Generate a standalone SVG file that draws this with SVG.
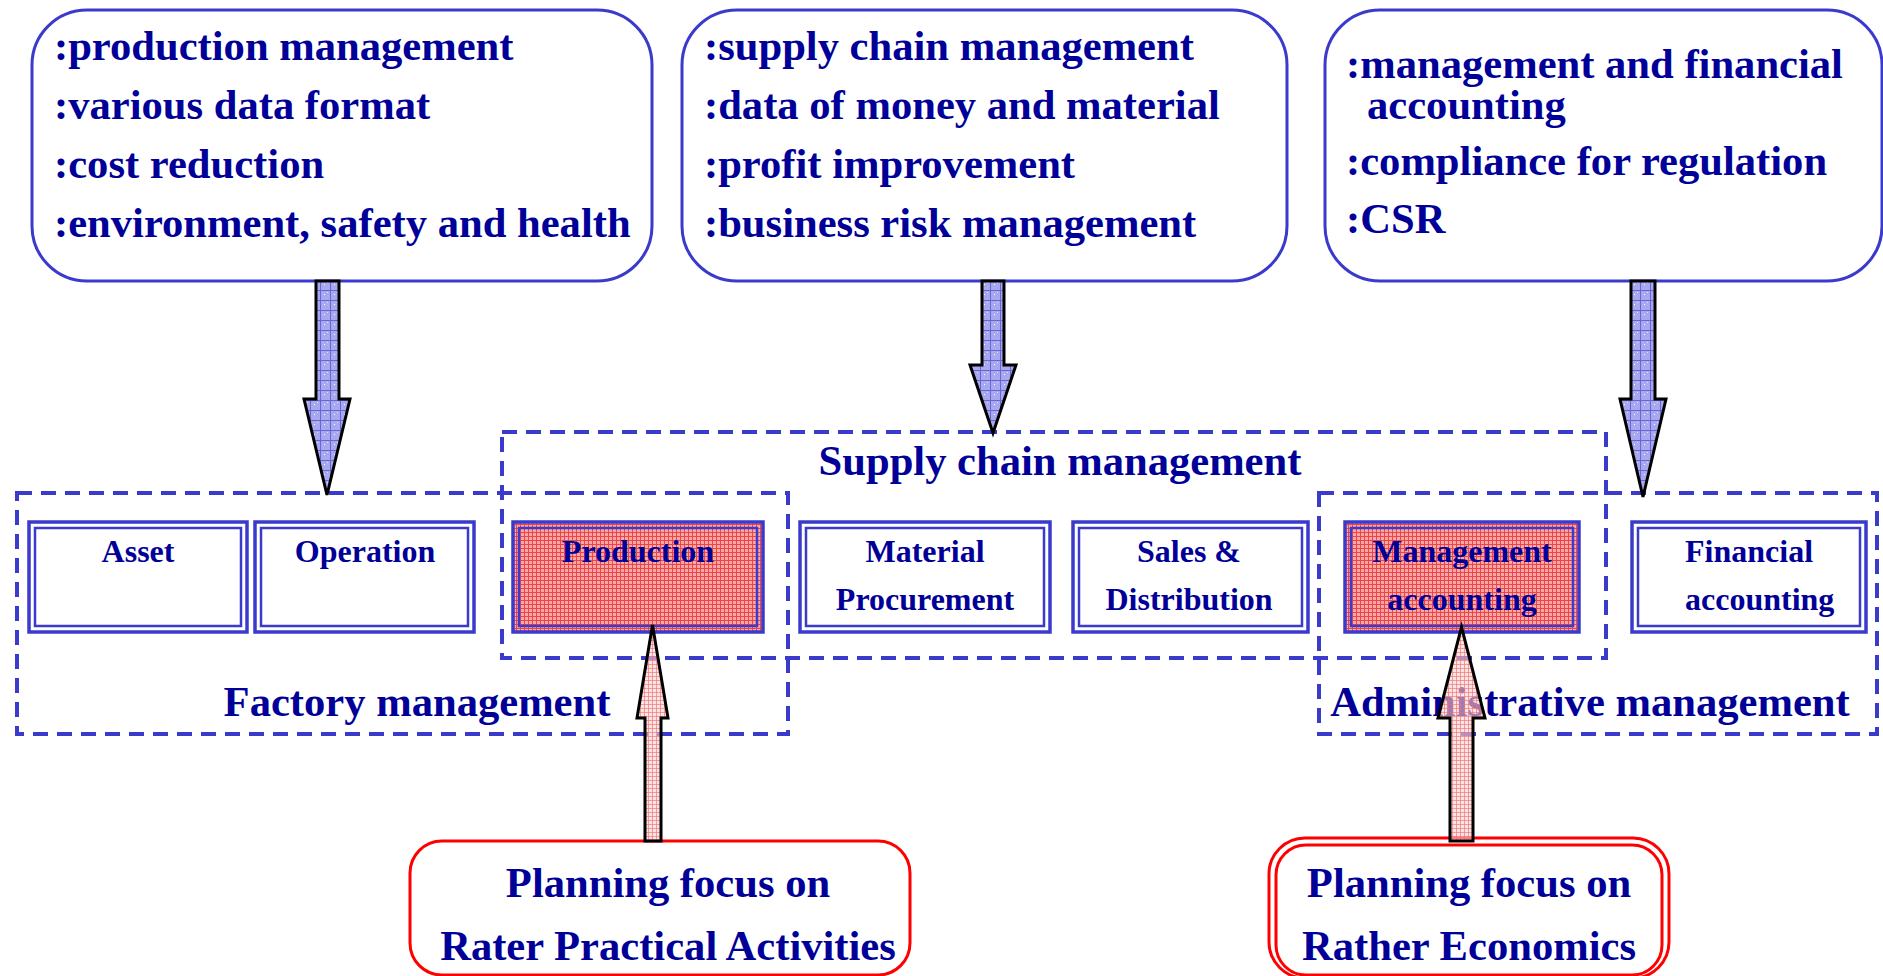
<svg xmlns="http://www.w3.org/2000/svg" width="1883" height="976" viewBox="0 0 1883 976">
<style>
.t{font-family:"Liberation Serif","Times New Roman",serif;font-weight:bold;fill:#000099}
.big{font-size:42.6px}
.sm{font-size:32px}
.top{fill:#ffffff;stroke:#3a3acc;stroke-width:3}
.dash{fill:none;stroke:#3a3acc;stroke-width:4;stroke-dasharray:15 9}
.ob{fill:#ffffff;stroke:#3a3acc;stroke-width:3.5}
.ib{fill:none;stroke:#3a3acc;stroke-width:2.5}
.obr{fill:url(#pRedBox);stroke:#3a3acc;stroke-width:3.5}
.barrow{fill:url(#pBlue);stroke:#000000;stroke-width:3;stroke-linejoin:miter}
.rarrow{fill:url(#pRed);stroke:#000000;stroke-width:3;stroke-linejoin:miter}
.red{fill:#ffffff;stroke:#ff0000;stroke-width:3}
.redi{fill:none;stroke:#ff0000;stroke-width:3}
</style>
<defs>
<pattern id="pBlue" width="10" height="10" patternUnits="userSpaceOnUse">
<rect width="10" height="10" fill="#a8a8ee"/>
<path d="M0 0.5H10M0.5 0V10" stroke="#6666d4" stroke-width="1"/>
<rect x="4" y="4" width="1" height="1" fill="#ffffff"/>
<rect x="7" y="2" width="1" height="1" fill="#e0e0ff"/>
</pattern>
<pattern id="pRedBox" width="4" height="4" patternUnits="userSpaceOnUse">
<rect width="4" height="4" fill="#f8a8a8"/>
<path d="M0 0.5H4M0.5 0V4" stroke="#ee4444" stroke-width="1"/>
</pattern>
<pattern id="pRed" width="4" height="4" patternUnits="userSpaceOnUse">
<rect width="4" height="4" fill="#fcd2d2" fill-opacity="0.6"/>
<path d="M0 0.5H4M0.5 0V4" stroke="#f07070" stroke-width="0.8" stroke-opacity="0.8"/>
</pattern>
</defs>
<rect width="1883" height="976" fill="#ffffff"/>

<g id="box-production-mgmt">
<rect class="top" x="32" y="10" width="620" height="271" rx="55" ry="55"/>
<text class="t big" x="54" y="60">:production management</text>
<text class="t big" x="54" y="119">:various data format</text>
<text class="t big" x="54" y="178">:cost reduction</text>
<text class="t big" x="54" y="237">:environment, safety and health</text>
</g>
<g id="box-scm-topics">
<rect class="top" x="682" y="10" width="605" height="271" rx="55" ry="55"/>
<text class="t big" x="704" y="60">:supply chain management</text>
<text class="t big" x="704" y="119">:data of money and material</text>
<text class="t big" x="704" y="178">:profit improvement</text>
<text class="t big" x="704" y="237">:business risk management</text>
</g>
<g id="box-accounting-topics">
<rect class="top" x="1325" y="10" width="557" height="271" rx="55" ry="55"/>
<text class="t big" x="1346" y="78">:management and financial</text>
<text class="t big" x="1367" y="119">accounting</text>
<text class="t big" x="1346" y="175">:compliance for regulation</text>
<text class="t big" x="1346" y="233">:CSR</text>
</g>

<g id="group-supply-chain">
<rect class="dash" x="502" y="432" width="1104" height="226"/>
<text class="t big" x="1060" y="475" text-anchor="middle">Supply chain management</text>
</g>
<g id="group-factory">
<rect class="dash" x="17" y="493" width="771" height="241"/>
<text class="t big" x="417" y="716" text-anchor="middle">Factory management</text>
</g>
<g id="group-administrative">
<rect class="dash" x="1319" y="493" width="558" height="241"/>
<text class="t big" x="1590" y="716" text-anchor="middle">Administrative management</text>
</g>

<g id="node-asset">
<rect class="ob" x="29" y="522" width="218" height="110"/>
<rect class="ib" x="35" y="528" width="206" height="98"/>
<text class="t sm" x="138" y="562" text-anchor="middle">Asset</text>
</g>
<g id="node-operation">
<rect class="ob" x="255" y="522" width="219" height="110"/>
<rect class="ib" x="261" y="528" width="207" height="98"/>
<text class="t sm" x="365" y="562" text-anchor="middle">Operation</text>
</g>
<g id="node-production">
<rect class="obr" x="513" y="522" width="250" height="110"/>
<rect class="ib" x="519" y="528" width="238" height="98"/>
<text class="t sm" x="638" y="562" text-anchor="middle">Production</text>
</g>
<g id="node-material">
<rect class="ob" x="800" y="522" width="250" height="110"/>
<rect class="ib" x="806" y="528" width="238" height="98"/>
<text class="t sm" x="925" y="562" text-anchor="middle">Material</text>
<text class="t sm" x="925" y="610" text-anchor="middle">Procurement</text>
</g>
<g id="node-sales">
<rect class="ob" x="1073" y="522" width="235" height="110"/>
<rect class="ib" x="1079" y="528" width="223" height="98"/>
<text class="t sm" x="1189" y="562" text-anchor="middle">Sales &amp;</text>
<text class="t sm" x="1189" y="610" text-anchor="middle">Distribution</text>
</g>
<g id="node-mgmt-accounting">
<rect class="obr" x="1345" y="522" width="234" height="110"/>
<rect class="ib" x="1351" y="528" width="222" height="98"/>
<text class="t sm" x="1462" y="562" text-anchor="middle">Management</text>
<text class="t sm" x="1462" y="610" text-anchor="middle">accounting</text>
</g>
<g id="node-fin-accounting">
<rect class="ob" x="1632" y="522" width="234" height="110"/>
<rect class="ib" x="1638" y="528" width="222" height="98"/>
<text class="t sm" x="1685" y="562">Financial</text>
<text class="t sm" x="1685" y="610">accounting</text>
</g>

<g id="focus-practical">
<rect class="red" x="410" y="841" width="500" height="134" rx="32" ry="32"/>
<text class="t big" x="668" y="897" text-anchor="middle">Planning focus on</text>
<text class="t big" x="668" y="960" text-anchor="middle">Rater Practical Activities</text>
</g>
<g id="focus-economics">
<rect class="red" x="1269" y="838" width="400" height="140" rx="36" ry="36"/>
<rect class="redi" x="1276" y="845" width="386" height="130" rx="30" ry="30"/>
<text class="t big" x="1469" y="897" text-anchor="middle">Planning focus on</text>
<text class="t big" x="1469" y="960" text-anchor="middle">Rather Economics</text>
</g>

<g id="connectors">
<path class="barrow" d="M316 281H339V399H350L327 495L304 399H316Z"/>
<path class="barrow" d="M982 281H1004V365H1016L993 433L970 365H982Z"/>
<path class="barrow" d="M1631 281H1655V399H1666L1643 497L1620 399H1631Z"/>
<path class="rarrow" d="M645 841V718H637L652.5 625L668 718H661V841Z"/>
<path class="rarrow" d="M1450 841V718H1438L1461.5 627L1485 718H1473V841Z"/>
</g>
</svg>
